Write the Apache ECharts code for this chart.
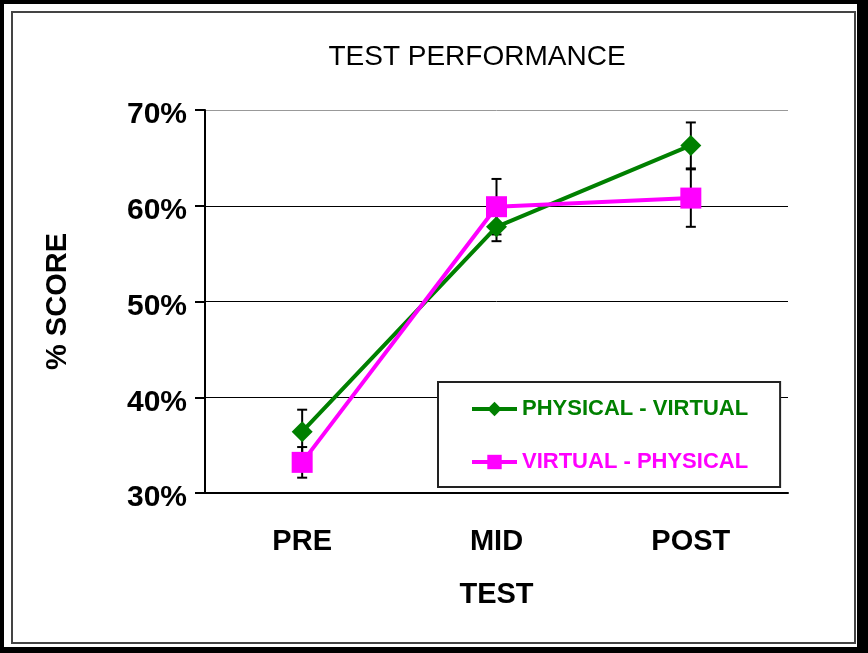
<!DOCTYPE html>
<html>
<head>
<meta charset="utf-8">
<script src="https://cdn.jsdelivr.net/npm/echarts@6/dist/echarts.min.js"></script>
<style>
  html, body { margin: 0; padding: 0; background: #fff; }
  #chart { width: 868px; height: 653px; }
</style>
</head>
<body>
<div id="chart"></div>
<script>
const categories = ['PRE', 'MID', 'POST']
const yTicks = [30, 40, 50, 60, 70]

const physVirt = [36.4, 57.8, 66.3]
const physVirtErr = [2.3, 1.5, 2.4]
const virtPhys = [33.2, 59.9, 60.8]
const virtPhysErr = [1.6, 2.9, 3.0]

const GREEN = '#008000'
const PINK = '#FF00FF'
const FONT = 'Liberation Sans, Arial, sans-serif'

const errData = (vals, errs) => vals.map((v, i) => [i, v - errs[i], v + errs[i]])

const renderErr = (params, api) => {
  const x = api.value(0)
  const lo = api.coord([x, api.value(1)])
  const hi = api.coord([x, api.value(2)])
  const cap = 5
  const style = { stroke: '#000', lineWidth: 2 }
  return {
    type: 'group',
    children: [
      { type: 'line', shape: { x1: lo[0], y1: lo[1], x2: hi[0], y2: hi[1] }, style },
      { type: 'line', shape: { x1: lo[0] - cap, y1: lo[1], x2: lo[0] + cap, y2: lo[1] }, style },
      { type: 'line', shape: { x1: hi[0] - cap, y1: hi[1], x2: hi[0] + cap, y2: hi[1] }, style }
    ]
  }
}

const chart = echarts.init(document.getElementById('chart'))

chart.setOption({
  animation: false,
  backgroundColor: '#fff',
  graphic: [
    { type: 'rect', z: 0, shape: { x: 0, y: 0, width: 868, height: 653 }, style: { fill: '#000' } },
    { type: 'rect', z: 0, shape: { x: 4, y: 4, width: 853, height: 643 }, style: { fill: '#fff' } },
    { type: 'rect', z: 0, shape: { x: 12, y: 12, width: 843, height: 631 }, style: { fill: 'none', stroke: '#444', lineWidth: 2 } }
  ],
  title: {
    text: 'TEST PERFORMANCE',
    left: 472,
    textAlign: 'center',
    top: 38,
    textStyle: { fontFamily: FONT, fontSize: 28, fontWeight: 'normal', color: '#000' }
  },
  grid: {
    left: 205,
    top: 110,
    right: 80,
    bottom: 160,
    show: true,
    backgroundColor: '#FFFFCC',
    borderColor: '#999',
    borderWidth: 2
  },
  legend: {
    left: 438,
    top: 382,
    orient: 'vertical',
    backgroundColor: '#fff',
    borderColor: '#222',
    borderWidth: 2,
    borderRadius: 0,
    padding: [16, 32, 14, 32],
    itemGap: 31,
    itemWidth: 45,
    itemHeight: 18,
    lineStyle: { width: 4 },
    textStyle: { fontFamily: FONT, fontSize: 22, fontWeight: 'bold' },
    data: [
      { name: 'PHYSICAL - VIRTUAL', textStyle: { color: GREEN } },
      { name: 'VIRTUAL - PHYSICAL', textStyle: { color: PINK } }
    ]
  },
  xAxis: {
    type: 'category',
    data: categories,
    name: 'TEST',
    nameLocation: 'middle',
    nameGap: 87,
    nameTextStyle: { fontFamily: FONT, fontSize: 29, fontWeight: 'bold', color: '#000' },
    axisLine: { lineStyle: { color: '#000', width: 2 } },
    axisTick: { length: 10, lineStyle: { color: '#000', width: 2 } },
    axisLabel: { margin: 34, fontFamily: FONT, fontSize: 29, fontWeight: 'bold', color: '#000' }
  },
  yAxis: {
    type: 'value',
    min: yTicks[0],
    max: yTicks[yTicks.length - 1],
    interval: 10,
    name: '% SCORE',
    nameLocation: 'middle',
    nameGap: 133,
    nameTextStyle: { fontFamily: FONT, fontSize: 29, fontWeight: 'bold', color: '#000' },
    axisLine: { show: true, lineStyle: { color: '#000', width: 2 } },
    axisTick: { show: true, length: 10, lineStyle: { color: '#000', width: 2 } },
    axisLabel: {
      margin: 18,
      verticalAlign: 'top',
      lineHeight: 10,
      formatter: '{value}%',
      fontFamily: FONT,
      fontSize: 30,
      fontWeight: 'bold',
      color: '#000'
    },
    splitLine: { lineStyle: { color: ['#000', '#000', '#000', '#000', '#999'], width: 1 } }
  },
  series: [
    {
      type: 'custom',
      name: 'errPV',
      renderItem: renderErr,
      data: errData(physVirt, physVirtErr),
      z: 1,
      silent: true
    },
    {
      type: 'custom',
      name: 'errVP',
      renderItem: renderErr,
      data: errData(virtPhys, virtPhysErr),
      z: 1,
      silent: true
    },
    {
      type: 'line',
      name: 'PHYSICAL - VIRTUAL',
      data: physVirt,
      symbol: 'diamond',
      symbolSize: 21,
      z: 3,
      itemStyle: { color: GREEN },
      lineStyle: { color: GREEN, width: 4 }
    },
    {
      type: 'line',
      name: 'VIRTUAL - PHYSICAL',
      data: virtPhys,
      symbol: 'rect',
      symbolSize: 21,
      z: 4,
      itemStyle: { color: PINK },
      lineStyle: { color: PINK, width: 4 }
    }
  ]
})
</script>
</body>
</html>
